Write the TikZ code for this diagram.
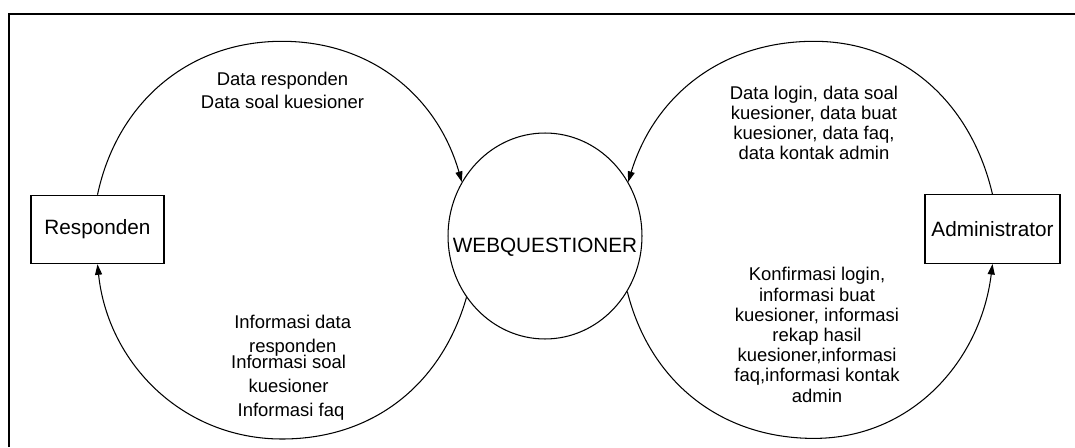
\documentclass[tikz,border=0pt]{standalone}
\usepackage{fontspec}
\setmainfont{Liberation Sans}
\usetikzlibrary{arrows.meta,shapes.geometric}

\begin{document}
\begin{tikzpicture}[x=0.02cm, y=0.02cm, line width=0.6pt,
  entity/.style={draw, rectangle, minimum height=1.37cm, inner sep=0pt, font=\fontsize{11.8}{14}\selectfont},
  proc/.style={draw, ellipse, minimum width=3.88cm, minimum height=4.12cm, inner sep=0pt},
  flow/.style={-{Triangle[length=6pt,width=4pt]}},
  lbl/.style={align=center, inner sep=0pt, font=\fontsize{10.5}{11.5}\selectfont}]
\useasboundingbox (0,0) rectangle (1075,447);
\draw [line width=0.8pt] (9,0) -- (9,433) -- (1075,433);
\node [entity, minimum width=2.66cm] (resp) at (97.5,217.5) {Responden};
\node [entity, minimum width=2.7cm] (admin) at (992.5,217.8) {Administrator};
\node [proc] (web) at (545,211) {};
\node [font=\fontsize{11.8}{14}\selectfont] (webtext) at (545,200) {WEBQUESTIONER};
\coordinate (ltop) at (282,405.7);
\coordinate (lbot) at (282,8);
\coordinate (rtop) at (814,405.7);
\coordinate (rbot) at (814,8.6);
\draw [flow] (resp.north) to[out=78,in=180] (ltop) to[out=0,in=106] (web.147);
\draw [flow] (web.218) to[out=-106,in=0] (lbot) to[out=180,in=-84] (resp.south);
\draw [flow] (admin.north) to[out=103,in=0] (rtop) to[out=180,in=73] (web.33);
\draw [flow] (web.-34) to[out=-76,in=180] (rbot) to[out=0,in=-97] (admin.south);
\node [lbl, font=\fontsize{10.5}{12.7}\selectfont] (inresp) at (282.5,356.6) {Data responden\\Data soal kuesioner};
\node [lbl, font=\fontsize{10.5}{13.6}\selectfont] (outresp1) at (292.7,111.3) {Informasi data\\responden};
\node [lbl, font=\fontsize{10.5}{13.6}\selectfont] (outresp2) at (288.6,73.2) {Informasi soal\\kuesioner};
\node [lbl] (outresp3) at (291,35.5) {Informasi faq};
\node [lbl] (inadmin) at (814,324.2) {Data login, data soal\\kuesioner, data buat\\kuesioner, data faq,\\data kontak admin};
\node [lbl] (outadmin) at (817,112.1) {Konfirmasi login,\\informasi buat\\kuesioner, informasi\\rekap hasil\\kuesioner,informasi\\faq,informasi kontak\\admin};
\end{tikzpicture}
\end{document}
